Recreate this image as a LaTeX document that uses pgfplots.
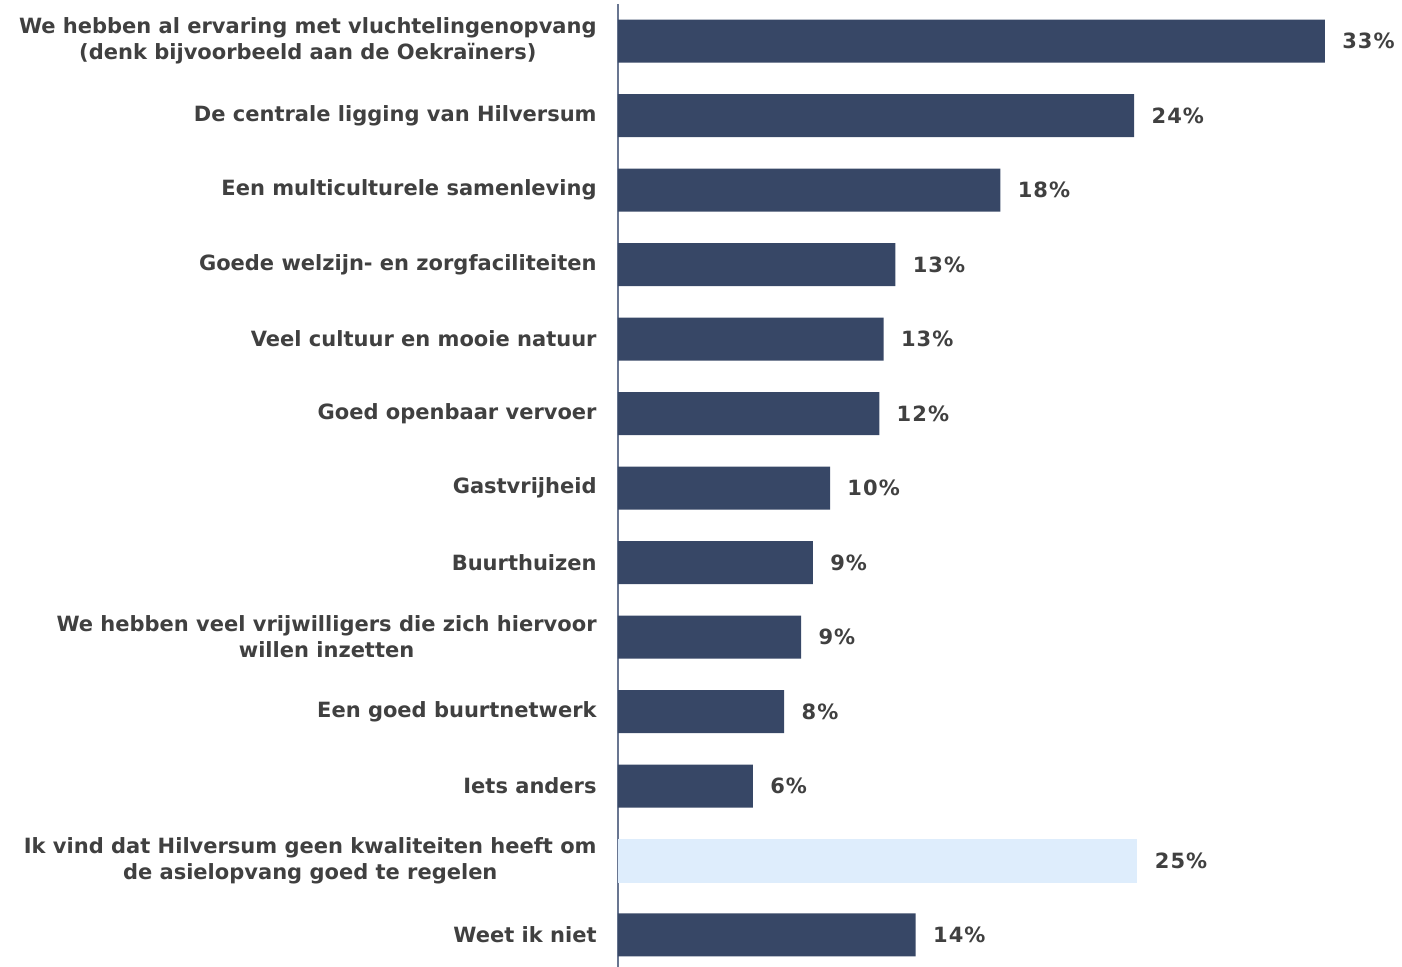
\documentclass[border=0pt]{standalone}
\usepackage{pgfplots}
\pgfplotsset{compat=1.18}
\usepackage{fontspec}
\setmainfont{DejaVu Sans}
\newfontfamily\numfont[LetterSpace=5]{DejaVu Sans}
\definecolor{barblue}{RGB}{55,71,102}
\definecolor{barlight}{RGB}{222,237,252}
\definecolor{txt}{RGB}{64,64,64}
\definecolor{axisline}{RGB}{105,118,145}

\begin{document}
\begin{tikzpicture}
\begin{axis}[
    name=ax,
    scale only axis,
    width=392pt, height=481.5pt,
    xbar, bar width=21.5pt,
    xmin=0, xmax=36.6,
    ymin=-0.5, ymax=12.43,
    y dir=reverse,
    axis x line=none,
    axis y line*=left,
    y axis line style={color=axisline, line width=1pt},
    ytick={0,...,12},
    major tick length=0pt,
    yticklabels={
        {We hebben al ervaring met vluchtelingenopvang\\(denk bijvoorbeeld aan de Oekraïners)},
        De centrale ligging van Hilversum,
        Een multiculturele samenleving,
        Goede welzijn- en zorgfaciliteiten,
        Veel cultuur en mooie natuur,
        Goed openbaar vervoer,
        Gastvrijheid,
        Buurthuizen,
        {We hebben veel vrijwilligers die zich hiervoor\\willen inzetten},
        Een goed buurtnetwerk,
        Iets anders,
        {Ik vind dat Hilversum geen kwaliteiten heeft om\\de asielopvang goed te regelen},
        Weet ik niet},
    yticklabel style={align=center, text=txt, inner xsep=0pt, xshift=-10.5pt,
        font=\bfseries\fontsize{10.5}{13}\selectfont},
    point meta=explicit symbolic,
    nodes near coords,
    nodes near coords style={font=\numfont\bfseries\fontsize{10.5}{13}\selectfont, text=txt,
        anchor=west, inner xsep=0pt, xshift=8.5pt},
    clip=false,
]
\addplot[fill=barblue, draw=none, bar shift=0pt] coordinates {
    (33.0,0) [33\%]
    (24.1,1) [24\%]
    (17.85,2) [18\%]
    (12.95,3) [13\%]
    (12.4,4) [13\%]
    (12.2,5) [12\%]
    (9.9,6) [10\%]
    (9.1,7) [9\%]
    (8.55,8) [9\%]
    (7.76,9) [8\%]
    (6.3,10) [6\%]
    (13.9,12) [14\%]
};
\addplot[fill=barlight, draw=none, bar shift=0pt, bar width=22pt] coordinates {
    (24.25,11) [25\%]
};
\end{axis}
\pgfresetboundingbox
\path ([xshift=-309pt]ax.south west) rectangle ([yshift=2pt]ax.north east);
\end{tikzpicture}
\end{document}
